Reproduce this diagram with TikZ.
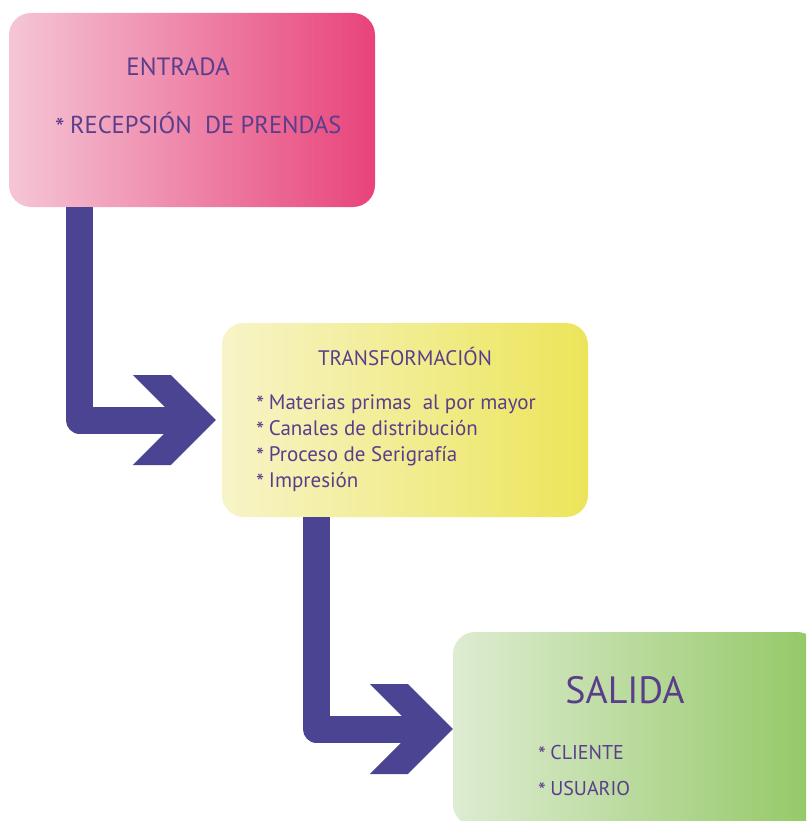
\documentclass[tikz,border=0pt]{standalone}
\usepackage{fontspec}
\usepackage{graphicx}
\setmainfont{PT Sans}
\usetikzlibrary{calc, positioning}
\definecolor{arrowcol}{RGB}{75,68,146}
\definecolor{txtcol}{RGB}{90,62,140}
\newcommand{\headat}[1]{\fill[arrowcol] (#1) ++(-83,-45) -- ++(38,0) -- ++(45,45) -- ++(-45,45) -- ++(-38,0) -- ++(45,-45) -- cycle;}
\newcommand{\itemmark}{\raisebox{-0.14em}{\scalebox{1.1}{*}}\hspace{0.22em}}
\tikzset{
    stage/.style={rounded corners=22pt, minimum width=366pt, minimum height=194pt, inner sep=0pt},
    txt/.style={text=txtcol, inner sep=0pt},
    bar/.style={draw=arrowcol, line width=27pt, line join=round}
}

\begin{document}
\begin{tikzpicture}[x=1pt, y=-1pt]
    \clip (0,0) rectangle (806,821);
    \useasboundingbox (0,0) rectangle (806,821);
    \fill[white] (0,0) rectangle (806,821);

    \node[stage, left color={rgb,255:red,245;green,198;blue,214}, right color={rgb,255:red,232;green,67;blue,122}] (entrada) at (192,110) {};
    \node[stage, left color={rgb,255:red,247;green,244;blue,200}, right color={rgb,255:red,236;green,229;blue,90}] (transf) at (405,420) {};
    \node[stage, left color={rgb,255:red,222;green,236;blue,210}, right color={rgb,255:red,147;green,200;blue,101}] (salida) at (636,729) {};

    \node[txt, font=\fontsize{25}{28}\selectfont] (t1) at (178,67) {ENTRADA};
    \node[txt, anchor=west, font=\fontsize{24.5}{28}\selectfont] (l1) at (55,125) {\itemmark RECEPSIÓN\ \ DE PRENDAS};

    \node[txt, font=\fontsize{21}{24}\selectfont] (t2) at (405,356) {TRANSFORMACIÓN};
    \node[txt, anchor=west, align=left, font=\fontsize{21}{26}\selectfont] (l2) at (256,443) {\itemmark Materias primas\ \ al por mayor\\ \itemmark Canales de distribución\\ \itemmark Proceso de Serigrafía\\ \itemmark Impresión};

    \node[txt, font=\fontsize{38}{44}\selectfont] (t3) at (625,690) {SALIDA};
    \node[txt, anchor=west, align=left, font=\fontsize{20}{36}\selectfont] (l3) at (538,772) {\itemmark CLIENTE\\ \itemmark USUARIO};

    \draw[bar] ([xshift=-112.5pt]entrada.south) |- ($(transf.west)+(-40,0)$);
    \headat{$(transf.west)+(-6,0)$}
    \draw[bar] ([xshift=-88.5pt]transf.south) |- ($(salida.west)+(-34,0)$);
    \headat{$(salida.west)+(0,0)$}
\end{tikzpicture}
\end{document}
